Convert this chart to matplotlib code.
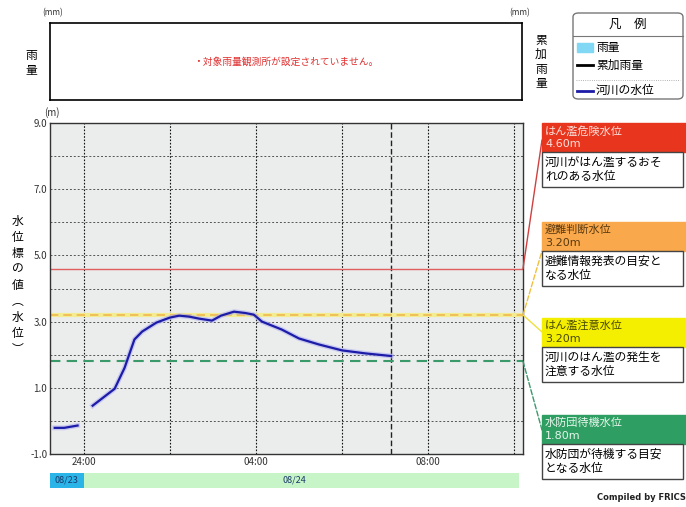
import matplotlib.pyplot as plt
import numpy as np
from matplotlib.patches import Rectangle, FancyBboxPatch, ConnectionPatch
from matplotlib.lines import Line2D

plt.rcParams['font.family'] = ['Noto Sans CJK JP', 'DejaVu Sans']

# hours relative to 08/24 00:00 (NaN = missing data)
hours = [-0.67, -0.45, -0.14, np.nan, 0.21, 0.45, 0.72, 0.95, 1.18, 1.36, 1.69, 2.0,
         2.22, 2.45, 2.68, 2.98, 3.19, 3.49, 3.75, 3.95, 4.14, 4.6, 5.0, 5.46,
         6.0, 6.54, 7.14]
level = [-0.21, -0.21, -0.14, np.nan, 0.46, 0.7, 0.97, 1.6, 2.46, 2.7, 2.97, 3.12,
         3.18, 3.15, 3.09, 3.03, 3.18, 3.3, 3.26, 3.21, 3.0, 2.76, 2.49, 2.31,
         2.13, 2.04, 1.96]
now_hour = 7.14

x_range = (-0.78, 10.2)
y_range = (-1.0, 9.0)
hour_ticks = [0, 4, 8]
hour_labels = ['24:00', '04:00', '08:00']
y_ticks = [9.0, 7.0, 5.0, 3.0, 1.0, -1.0]

dates = ['08/23', '08/24']
date_spans = [(-0.78, 0.0), (0.0, 10.1)]
date_colors = ['#2ab4e8', '#c8f5c8']

thresholds = [4.60, 3.20, 3.20, 1.80]
th_names = ['はん濫危険水位', '避難判断水位', 'はん濫注意水位', '水防団待機水位']
th_desc = ['河川がはん濫するおそ\nれのある水位', '避難情報発表の目安と\nなる水位',
           '河川のはん濫の発生を\n注意する水位', '水防団が待機する目安\nとなる水位']
th_colors = ['#e8361e', '#f9a84c', '#f4ee00', '#2f9e62']
th_text_colors = ['#fbe0dc', '#5a3a10', '#4a4a00', '#e6f6ec']

W, H = 686, 507
fig = plt.figure(figsize=(W / 100, H / 100), dpi=100)


def fx(x):
    return x / W


def fy(y):
    return 1 - y / H


def box(x0, y0, x1, y1):
    return [fx(x0), fy(y1), fx(x1) - fx(x0), fy(y0) - fy(y1)]


# rainfall panel (no data)
rax = fig.add_axes(box(50, 23, 522, 100))
rax.set_xticks([])
rax.set_yticks([])
for s in rax.spines.values():
    s.set_linewidth(1.2)
rax.text(0.5, 0.5, '・対象雨量観測所が設定されていません。', transform=rax.transAxes,
         ha='center', va='center', color='#e03030', fontsize=7)
fig.text(fx(53), fy(13), '(mm)', fontsize=6, ha='center', va='center', color='#333333')
fig.text(fx(520), fy(13), '(mm)', fontsize=6, ha='center', va='center', color='#333333')
fig.text(fx(31), fy(63), '雨\n量', fontsize=8.5, ha='center', va='center', linespacing=1.25)
fig.text(fx(541), fy(62), '累\n加\n雨\n量', fontsize=8.5, ha='center', va='center',
         linespacing=1.15)

# water level panel
ax = fig.add_axes(box(50, 123, 523, 454))
ax.set_facecolor('#ebecec')
ax.set_xlim(*x_range)
ax.set_ylim(*y_range)
for v in np.arange(-1, 9.5, 1.0):
    ax.axhline(v, color='#555555', lw=0.7, ls=(0, (2, 2)), zorder=1)
for h in np.arange(0, 10.5, 2):
    ax.axvline(h, color='#111111', lw=0.8, ls=(0, (1.5, 1.5)), zorder=1)
ax.axvline(now_hour, color='#222222', lw=1.0, ls=(0, (4, 2)), zorder=1)

ax.axhline(thresholds[0], color='#e06060', lw=1.0, zorder=2)
ax.axhline(thresholds[2], color='#f4ec90', lw=3.0, zorder=2)
ax.axhline(thresholds[1], color='#f0b850', lw=1.2, ls=(0, (5, 3)), zorder=2)
ax.axhline(thresholds[3], color='#3a9a6a', lw=1.5, ls=(0, (5, 3)), zorder=2)

ax.plot(hours, level, color='#b0b0f0', lw=3.5, alpha=0.6, zorder=3)
ax.plot(hours, level, color='#1c1ca8', lw=1.6, zorder=4)

ax.set_xticks(hour_ticks)
ax.set_xticklabels(hour_labels)
ax.set_yticks(y_ticks)
ax.set_yticklabels([f'{v:.1f}' for v in y_ticks])
ax.tick_params(length=0, labelsize=7, labelcolor='#333333', pad=2)
for s in ax.spines.values():
    s.set_linewidth(1.0)
    s.set_color('#333333')
fig.text(fx(52), fy(113), '(m)', fontsize=7, ha='center', va='center', color='#333333')
fig.text(fx(18), fy(285), '水\n位\n標\nの\n値\n︵\n水\n位\n︶', fontsize=8.5,
         ha='center', va='center', linespacing=1.3)

# date bar
dax = fig.add_axes(box(50, 473, 523, 488))
dax.set_xlim(*x_range)
dax.set_ylim(0, 1)
dax.axis('off')
for (a, b), c, d in zip(date_spans, date_colors, dates):
    dax.axvspan(a, b, color=c, lw=0)
dax.text(np.mean(date_spans[0]), 0.5, dates[0], ha='center', va='center',
         fontsize=6.5, color='#1a3a6a')
dax.text(4.9, 0.5, dates[1], ha='center', va='center', fontsize=6.5, color='#1a3a6a')

# legend box
fig.patches.append(FancyBboxPatch((fx(573), fy(99)), fx(683) - fx(573), fy(13) - fy(99),
                                  boxstyle='round,pad=0,rounding_size=0.008',
                                  transform=fig.transFigure, fc='white', ec='#777777', lw=1.0))
fig.add_artist(Line2D([fx(573), fx(683)], [fy(36), fy(36)], color='#777777', lw=0.8))
fig.add_artist(Line2D([fx(576), fx(680)], [fy(80), fy(80)], color='#999999', lw=0.6, ls=':'))
fig.text(fx(628), fy(24), '凡　例', fontsize=9, ha='center', va='center')
fig.patches.append(Rectangle((fx(577), fy(52)), fx(16), fy(0) - fy(9), color='#80d8f4',
                             transform=fig.transFigure))
fig.add_artist(Line2D([fx(577), fx(593)], [fy(65), fy(65)], color='black', lw=2))
fig.add_artist(Line2D([fx(577), fx(593)], [fy(91), fy(91)], color='#1c1ca8', lw=2))
for yy, t in [(47, '雨量'), (65, '累加雨量'), (90, '河川の水位')]:
    fig.text(fx(596), fy(yy), t, fontsize=8.5, ha='left', va='center')

# threshold annotation boxes
box_tops = [123, 222, 318, 415]
link_ends = [140, 251, 332, 430]
link_styles = ['-', '--', '-', '--']
link_colors = ['#d04040', '#f0c040', '#f0e040', '#3a9a6a']
for i in range(4):
    t = box_tops[i]
    fig.patches.append(Rectangle((fx(542), fy(t + 29)), fx(144), fy(0) - fy(29),
                                 color=th_colors[i], transform=fig.transFigure))
    fig.text(fx(545), fy(t + 8), th_names[i], fontsize=8, color=th_text_colors[i],
             ha='left', va='center')
    fig.text(fx(545), fy(t + 21), f'{thresholds[i]:.2f}m', fontsize=8,
             color=th_text_colors[i], ha='left', va='center', family='DejaVu Sans')
    fig.patches.append(Rectangle((fx(542), fy(t + 64)), fx(141), fy(0) - fy(35),
                                 fc='white', ec='#444444', lw=1.0, transform=fig.transFigure))
    fig.text(fx(545), fy(t + 46.5), th_desc[i], fontsize=8.5, ha='left', va='center',
             linespacing=1.1)
    con = ConnectionPatch(xyA=(x_range[1], thresholds[i]), coordsA=ax.transData,
                          xyB=(fx(542), fy(link_ends[i])), coordsB=fig.transFigure,
                          color=link_colors[i], lw=1.0, ls=link_styles[i])
    fig.add_artist(con)

fig.text(fx(641), fy(497), 'Compiled by FRICS', fontsize=6, ha='center', va='center',
         color='#222222', family='DejaVu Sans', weight='bold')

fig.savefig('out.png', dpi=100)
